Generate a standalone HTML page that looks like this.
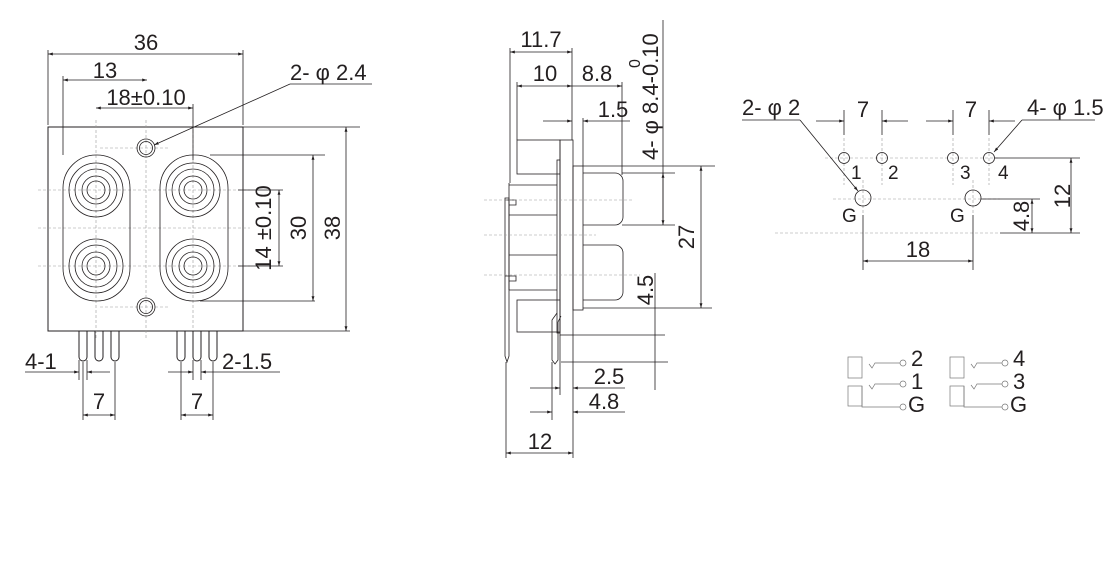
<!DOCTYPE html>
<html><head><style>
html,body{margin:0;padding:0;background:#fff;}
svg{display:block;}
text{font-family:"Liberation Sans",Arial,sans-serif;fill:#231f20;}
</style></head><body>
<svg width="1120" height="582" viewBox="0 0 1120 582" xmlns="http://www.w3.org/2000/svg">
<defs>
<marker id="a" viewBox="0 0 10 10" refX="10" refY="5" markerWidth="6" markerHeight="6" orient="auto-start-reverse"><path d="M0,2L10,5L0,8z" fill="#231f20"/></marker>
</defs>
<g stroke="#231f20" fill="none" stroke-width="0.8">
<rect x="48" y="127" width="195" height="204" stroke-width="1"/>
<g stroke="#999" stroke-dasharray="3,2" stroke-width="0.6">
<line x1="38" y1="190" x2="250" y2="190"/><line x1="38" y1="228" x2="250" y2="228"/><line x1="38" y1="266" x2="250" y2="266"/>
<line x1="96" y1="120" x2="96" y2="340"/><line x1="146" y1="120" x2="146" y2="340"/><line x1="193" y1="120" x2="193" y2="340"/>
<line x1="100" y1="148" x2="170" y2="148"/><line x1="100" y1="307" x2="170" y2="307"/>
</g>
<circle cx="146" cy="148" r="9"/><circle cx="146" cy="148" r="6.5"/>
<circle cx="146" cy="307" r="9"/><circle cx="146" cy="307" r="6.5"/>
<rect x="63" y="155" width="67" height="146" rx="33"/>
<rect x="160" y="155" width="68" height="146" rx="33"/>
<g id="j1"><circle cx="96" cy="190" r="27"/><circle cx="96" cy="190" r="21"/><circle cx="96" cy="190" r="14"/><circle cx="96" cy="190" r="9"/></g>
<use href="#j1" y="76"/><use href="#j1" x="97"/><use href="#j1" x="97" y="76"/>
<g stroke-width="1">
<path d="M79,331V357a4,4 0 0 0 8,0V331"/><path d="M95,331V357a4,4 0 0 0 8,0V331"/><path d="M111,331V357a4,4 0 0 0 8,0V331"/>
<path d="M177,331V357a4,4 0 0 0 8,0V331"/><path d="M193,331V357a4,4 0 0 0 8,0V331"/><path d="M209,331V357a4,4 0 0 0 8,0V331"/>
</g>
<line x1="48" y1="54" x2="243" y2="54" marker-start="url(#a)" marker-end="url(#a)"/>
<line x1="48" y1="50" x2="48" y2="125"/><line x1="243" y1="50" x2="243" y2="125"/>
<line x1="63" y1="80" x2="147" y2="80" marker-start="url(#a)" marker-end="url(#a)"/>
<line x1="63" y1="76" x2="63" y2="155"/>
<line x1="96" y1="108" x2="193" y2="108" marker-start="url(#a)" marker-end="url(#a)"/>
<line x1="193" y1="104" x2="193" y2="160"/>
<line x1="372" y1="84" x2="290" y2="84"/><line x1="290" y1="84" x2="154" y2="145" marker-end="url(#a)"/>
<line x1="243" y1="127" x2="360" y2="127"/><line x1="243" y1="331" x2="350" y2="331"/>
<line x1="346" y1="127" x2="346" y2="331" marker-start="url(#a)" marker-end="url(#a)"/>
<line x1="210" y1="155" x2="325" y2="155"/><line x1="200" y1="301" x2="315" y2="301"/>
<line x1="313" y1="155" x2="313" y2="301" marker-start="url(#a)" marker-end="url(#a)"/>
<line x1="238" y1="190" x2="283" y2="190"/><line x1="238" y1="266" x2="283" y2="266"/>
<line x1="279" y1="190" x2="279" y2="266" marker-start="url(#a)" marker-end="url(#a)"/>
<line x1="25" y1="372" x2="79" y2="372" marker-end="url(#a)"/><line x1="87" y1="372" x2="110" y2="372" marker-start="url(#a)"/>
<line x1="168" y1="372" x2="193" y2="372" marker-end="url(#a)"/><line x1="201" y1="372" x2="280" y2="372" marker-start="url(#a)"/>
<line x1="79" y1="360" x2="79" y2="380"/><line x1="87" y1="360" x2="87" y2="380"/>
<line x1="193" y1="360" x2="193" y2="380"/><line x1="201" y1="360" x2="201" y2="380"/>
<line x1="83" y1="362" x2="83" y2="420"/><line x1="115" y1="362" x2="115" y2="420"/>
<line x1="83" y1="415" x2="115" y2="415" marker-start="url(#a)" marker-end="url(#a)"/>
<line x1="181" y1="362" x2="181" y2="420"/><line x1="213" y1="362" x2="213" y2="420"/>
<line x1="181" y1="415" x2="213" y2="415" marker-start="url(#a)" marker-end="url(#a)"/>

<rect x="560" y="140" width="13" height="195"/>
<rect x="557" y="160" width="3" height="173"/>
<rect x="573" y="166" width="10" height="144"/>
<path d="M583,173H615a8,8 0 0 1 8,8V217a8,8 0 0 1 -8,8H583"/>
<path d="M583,245H615a8,8 0 0 1 8,8V292a8,8 0 0 1 -8,8H583"/>
<rect x="517" y="140" width="43" height="34"/>
<rect x="517" y="300" width="43" height="32"/>
<path d="M509,185H557M509,290H557M509,183V290M509,215H557M509,255H557"/>
<path d="M505,198V356L507,362L509,356V198Z"/>
<path d="M505,200H516V205H509M505,276H516V281H509"/>
<path d="M557,313L552,320V360L555,364L558,360V322L561,316"/>
<g stroke="#999" stroke-dasharray="3,2" stroke-width="0.6">
<line x1="484" y1="200" x2="632" y2="200"/><line x1="484" y1="235" x2="596" y2="235"/><line x1="484" y1="275" x2="640" y2="275"/>
</g>
<line x1="510" y1="48" x2="510" y2="183"/><line x1="572" y1="48" x2="572" y2="140"/>
<line x1="510" y1="52" x2="572" y2="52" marker-start="url(#a)" marker-end="url(#a)"/>
<line x1="517" y1="82" x2="517" y2="140"/><line x1="622" y1="82" x2="622" y2="175"/>
<line x1="517" y1="86" x2="572" y2="86" marker-start="url(#a)" marker-end="url(#a)"/>
<line x1="572" y1="86" x2="622" y2="86" marker-end="url(#a)"/>
<line x1="543" y1="121" x2="572" y2="121" marker-end="url(#a)"/><line x1="583" y1="121" x2="630" y2="121" marker-start="url(#a)"/>
<line x1="583" y1="118" x2="583" y2="166"/>
<line x1="663" y1="20" x2="663" y2="224"/>
<line x1="622" y1="173" x2="675" y2="173"/><line x1="622" y1="225" x2="675" y2="225"/>
<line x1="663" y1="173" x2="663" y2="225" marker-start="url(#a)" marker-end="url(#a)"/>
<line x1="583" y1="166" x2="715" y2="166"/><line x1="583" y1="308" x2="712" y2="308"/>
<line x1="701" y1="166" x2="701" y2="308" marker-start="url(#a)" marker-end="url(#a)"/>
<line x1="573" y1="335" x2="665" y2="335"/><line x1="561" y1="362" x2="668" y2="362"/>
<line x1="655" y1="273" x2="655" y2="390"/>
<line x1="560" y1="335" x2="560" y2="395"/><line x1="573" y1="335" x2="573" y2="458"/>
<line x1="552" y1="362" x2="552" y2="420"/><line x1="506" y1="362" x2="506" y2="458"/>
<line x1="530" y1="388" x2="560" y2="388" marker-end="url(#a)"/><line x1="573" y1="388" x2="625" y2="388" marker-start="url(#a)"/>
<line x1="530" y1="412" x2="552" y2="412" marker-end="url(#a)"/><line x1="573" y1="412" x2="625" y2="412" marker-start="url(#a)"/>
<line x1="506" y1="453" x2="573" y2="453" marker-start="url(#a)" marker-end="url(#a)"/>

<g stroke="#999" stroke-dasharray="3,2" stroke-width="0.6">
<line x1="825" y1="158" x2="1000" y2="158"/><line x1="833" y1="199" x2="1000" y2="199"/><line x1="775" y1="233" x2="1000" y2="233"/>
<line x1="844" y1="138" x2="844" y2="185"/><line x1="882" y1="138" x2="882" y2="185"/>
<line x1="953" y1="138" x2="953" y2="185"/><line x1="989" y1="138" x2="989" y2="185"/>
<line x1="863" y1="180" x2="863" y2="215"/><line x1="973" y1="180" x2="973" y2="215"/>
</g>
<circle cx="844" cy="158" r="5.5"/><circle cx="882" cy="158" r="5.5"/><circle cx="953" cy="158" r="5.5"/><circle cx="989" cy="158" r="5.5"/>
<circle cx="863" cy="198" r="8"/><circle cx="973" cy="198" r="8"/>
<line x1="844" y1="110" x2="844" y2="135"/><line x1="882" y1="110" x2="882" y2="135"/>
<line x1="953" y1="110" x2="953" y2="135"/><line x1="989" y1="110" x2="989" y2="135"/>
<line x1="816" y1="121" x2="844" y2="121" marker-end="url(#a)"/><line x1="882" y1="121" x2="908" y2="121" marker-start="url(#a)"/>
<line x1="926" y1="121" x2="953" y2="121" marker-end="url(#a)"/><line x1="989" y1="121" x2="1015" y2="121" marker-start="url(#a)"/>
<line x1="742" y1="120" x2="800" y2="120"/><line x1="800" y1="120" x2="858" y2="191" marker-end="url(#a)"/>
<line x1="1095" y1="120" x2="1022" y2="120"/><line x1="1022" y1="120" x2="994" y2="152" marker-end="url(#a)"/>
<line x1="995" y1="158" x2="1080" y2="158"/><line x1="981" y1="199" x2="1040" y2="199"/>
<line x1="1071" y1="158" x2="1071" y2="233" marker-start="url(#a)" marker-end="url(#a)"/>
<line x1="1032" y1="199" x2="1032" y2="233" marker-start="url(#a)" marker-end="url(#a)"/>
<line x1="1000" y1="233" x2="1080" y2="233"/>
<line x1="863" y1="215" x2="863" y2="270"/><line x1="973" y1="215" x2="973" y2="270"/>
<line x1="863" y1="261" x2="973" y2="261" marker-start="url(#a)" marker-end="url(#a)"/>
<g stroke="#777" stroke-width="0.7">
<g id="sc">
<rect x="848" y="357" width="14" height="21"/>
<rect x="848" y="386" width="14" height="20"/>
<path d="M862,386V407H900"/>
<path d="M869,364L872,368L875,363H900"/>
<path d="M869,385L872,389L875,384H900"/>
<circle cx="903" cy="363" r="3"/><circle cx="903" cy="384" r="3"/><circle cx="903" cy="407" r="3"/>
</g>
<use href="#sc" x="102"/>
</g>
</g>
<g font-size="22">
<text x="146" y="50" text-anchor="middle">36</text>
<text x="105" y="78" text-anchor="middle">13</text>
<text x="146" y="105" text-anchor="middle">18±0.10</text>
<text x="290" y="80">2- φ 2.4</text>
<text x="25" y="369">4-1</text>
<text x="222" y="369">2-1.5</text>
<text x="99" y="409" text-anchor="middle">7</text>
<text x="197" y="409" text-anchor="middle">7</text>
<text transform="translate(271,228) rotate(-90)" text-anchor="middle">14 ±0.10</text>
<text transform="translate(306,228) rotate(-90)" text-anchor="middle">30</text>
<text transform="translate(340,228) rotate(-90)" text-anchor="middle">38</text>
<text x="541" y="47" text-anchor="middle">11.7</text>
<text x="545" y="81" text-anchor="middle">10</text>
<text x="597" y="81" text-anchor="middle">8.8</text>
<text x="613" y="117" text-anchor="middle">1.5</text>
<text transform="translate(658,160) rotate(-90)">4- φ 8.4-0.10</text>
<text transform="translate(640,68) rotate(-90)" font-size="16">0</text>
<text transform="translate(694,237) rotate(-90)" text-anchor="middle">27</text>
<text transform="translate(653,290) rotate(-90)" text-anchor="middle">4.5</text>
<text x="609" y="384" text-anchor="middle">2.5</text>
<text x="604" y="409" text-anchor="middle">4.8</text>
<text x="540" y="449" text-anchor="middle">12</text>
<text x="742" y="115">2- φ 2</text>
<text x="1027" y="115">4- φ 1.5</text>
<text x="863" y="117" text-anchor="middle">7</text>
<text x="971" y="117" text-anchor="middle">7</text>
<text x="918" y="257" text-anchor="middle">18</text>
<text transform="translate(1070,196) rotate(-90)" text-anchor="middle">12</text>
<text transform="translate(1029,216) rotate(-90)" text-anchor="middle">4.8</text>
</g>
<g font-size="19">
<text x="851" y="179">1</text><text x="888" y="179">2</text><text x="960" y="179">3</text><text x="998" y="179">4</text>
<text x="842" y="222">G</text><text x="950" y="222">G</text>
</g>
<g font-size="22">
<text x="911" y="366">2</text><text x="911" y="389">1</text><text x="908" y="412">G</text>
<text x="1013" y="366">4</text><text x="1013" y="389">3</text><text x="1010" y="412">G</text>
</g>
</svg>
</body></html>
